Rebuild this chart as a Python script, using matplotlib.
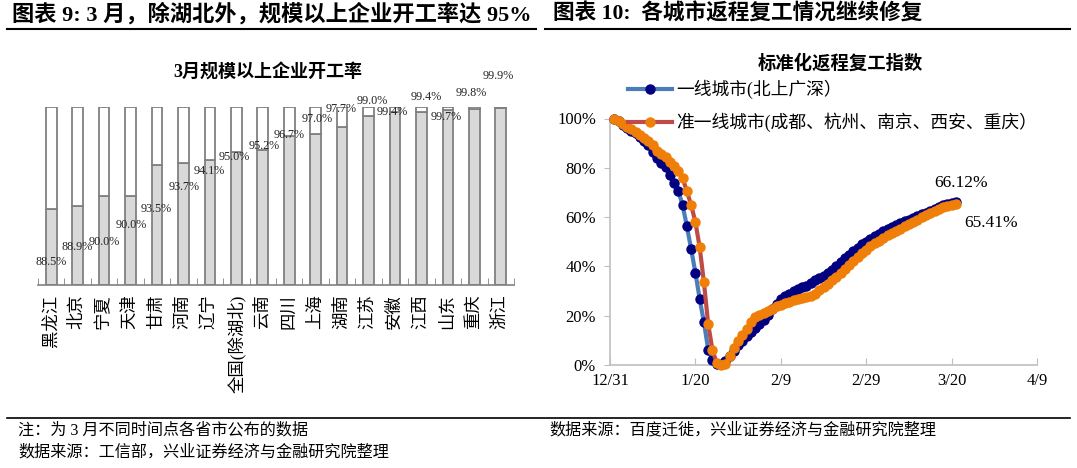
import numpy as np
import pandas as pd
import matplotlib
matplotlib.use('Agg')
import matplotlib.pyplot as plt
from matplotlib.lines import Line2D

plt.rcParams['font.family'] = ['Liberation Serif', 'Noto Sans CJK SC', 'DejaVu Sans']

# 图表 9: 3月规模以上企业开工率
provinces = ['黑龙江', '北京', '宁夏', '天津', '甘肃', '河南', '辽宁', '全国(除湖北)', '云南',
             '四川', '上海', '湖南', '江苏', '安徽', '江西', '山东', '重庆', '浙江']
open_rate = [88.5, 88.9, 90.0, 90.0, 93.5, 93.7, 94.1, 95.0, 95.2,
             96.7, 97.0, 97.7, 99.0, 99.4, 99.4, 99.7, 99.8, 99.9]

# 图表 10: 标准化返程复工指数 (daily, from 1/1)
start_date = '2020-01-01'
tier1 = [100.0, 98.8, 97.3, 96.0, 95.0, 94.0, 92.5, 90.8, 89.2, 86.6,
         84.0, 81.9, 80.2, 77.2, 74.0, 70.6, 64.9, 56.3, 47.0, 37.5,
         26.8, 17.3, 6.2, 1.9, 0.5, 0.3, 1.5, 3.5, 5.5, 8.0,
         9.9, 11.6, 13.2, 14.9, 16.6, 18.4, 20.3, 22.6, 24.8, 26.8,
         28.0, 29.0, 30.0, 30.8, 31.6, 32.2, 33.2, 34.3, 35.2, 36.2,
         37.3, 38.7, 40.2, 41.8, 43.3, 44.8, 46.3, 47.6, 48.9, 50.1,
         51.2, 52.3, 53.3, 54.3, 55.2, 56.0, 56.8, 57.6, 58.3, 59.0,
         59.7, 60.4, 61.1, 61.8, 62.6, 63.4, 64.1, 64.8, 65.3, 65.8,
         66.12]
tier1_new = [100.0, 98.8, 97.7, 96.7, 95.8, 94.4, 93.2, 92.0, 90.9, 89.3,
             87.0, 85.7, 84.3, 82.5, 80.7, 78.6, 75.7, 70.5, 64.9, 58.0,
             47.8, 33.5, 16.5, 6.1, 0.7, 0.0, 0.5, 3.5, 7.0, 9.6,
             12.0, 14.8, 17.4, 19.4, 20.2, 21.2, 22.0, 22.9, 23.8, 24.5,
             25.1, 25.7, 26.3, 26.7, 27.1, 27.5, 28.1, 29.0, 30.3, 31.6,
             33.0, 34.4, 35.7, 37.2, 38.8, 40.5, 42.2, 43.8, 45.3, 46.8,
             48.2, 49.4, 50.5, 51.6, 52.6, 53.5, 54.4, 55.3, 56.2, 57.1,
             58.0, 59.0, 60.0, 60.9, 61.8, 62.6, 63.4, 64.0, 64.6, 65.1,
             65.41]
series_names = ['一线城市(北上广深）', '准一线城市(成都、杭州、南京、西安、重庆）']
date_ticks = ['2019-12-31', '2020-01-20', '2020-02-09', '2020-02-29', '2020-03-20', '2020-04-09']
date_labels = ['12/31', '1/20', '2/9', '2/29', '3/20', '4/9']

# label placement for the bar values (x offset, y in data units)
label_dx = [0.0, -0.03, 0.0, 0.02, -0.04, 0.02, -0.03, -0.09, 0.05,
            0.0, 0.05, -0.04, 0.13, -0.11, 0.17, -0.07, -0.12, -0.1]
label_y = [82.6, 84.3, 84.8, 86.7, 88.5, 91.0, 92.8, 94.4, 95.6,
           96.9, 98.7, 99.8, 100.7, 99.4, 101.1, 98.9, 101.6, 103.5]

W, H = 1077, 468
fig = plt.figure(figsize=(W / 100, H / 100), dpi=100)


def fx(px):
    return px / W


def fy(py):
    return 1 - py / H


# ---- left: bar chart
ax1 = fig.add_axes([fx(38), fy(285), fx(514) - fx(38), fy(107) - fy(285)])
x = np.arange(len(provinces))
vals = np.array(open_rate)
ax1.bar(x, vals - 80, bottom=80, width=0.4, color='#d9d9d9', edgecolor='#808080', linewidth=1.3)
ax1.bar(x, 100 - vals, bottom=vals, width=0.4, color='white', edgecolor='#808080', linewidth=1.3)
for i, v in enumerate(open_rate):
    ax1.text(i + label_dx[i], label_y[i], f'{v:.1f}%', ha='center', va='center',
             fontsize=8.7, color='#222222', clip_on=False)
ax1.set_xlim(-0.5, len(provinces) - 0.5)
ax1.set_ylim(80, 100)
for s in ['top', 'right', 'left']:
    ax1.spines[s].set_visible(False)
ax1.spines['bottom'].set_color('#808080')
ax1.spines['bottom'].set_linewidth(1.2)
ax1.set_yticks([])
ax1.set_xticks(x)
ax1.set_xticklabels(provinces, rotation=90, fontsize=12.5, va='top')
ax1.tick_params(axis='x', which='major', length=0, pad=7)
ax1.set_xticks(np.arange(-0.5, len(provinces)), minor=True)
ax1.tick_params(axis='x', which='minor', direction='in', length=5, color='#808080')
fig.text(fx(268), fy(73), '3月规模以上企业开工率', ha='center', va='center',
         fontsize=13, fontweight='bold')

# ---- right: line chart
ax2 = fig.add_axes([fx(610), fy(365), fx(1037) - fx(610), fy(118.5) - fy(365)])
dates = pd.date_range(start_date, periods=len(tier1))
ax2.plot(dates, tier1, color='#4a7ebb', lw=3, marker='o', ms=6.5,
         mfc='#000080', mec='#000080', clip_on=False, label=series_names[0], zorder=3)
ax2.plot(dates, tier1_new, color='#be4b48', lw=3, marker='o', ms=6.5,
         mfc='#f07f09', mec='#f07f09', clip_on=False, label=series_names[1], zorder=4)
ax2.set_xlim(pd.Timestamp(date_ticks[0]), pd.Timestamp(date_ticks[-1]))
ax2.set_ylim(0, 100)
ax2.set_xticks([pd.Timestamp(d) for d in date_ticks])
ax2.set_xticklabels(date_labels, fontsize=12)
ax2.set_yticks(np.arange(0, 101, 20))
ax2.set_yticklabels([f'{v}%' for v in range(0, 101, 20)], fontsize=12)
for s in ['top', 'right']:
    ax2.spines[s].set_visible(False)
for s in ['left', 'bottom']:
    ax2.spines[s].set_color('#bfbfbf')
    ax2.spines[s].set_linewidth(1.2)
ax2.tick_params(axis='x', direction='in', length=5, color='#bfbfbf', pad=6)
ax2.tick_params(axis='y', direction='out', length=4, color='#bfbfbf', pad=6)

ax2.annotate(f'{tier1[-1]:.2f}%', xy=(dates[-1], tier1[-1]), xytext=(4, 14),
             textcoords='offset points', ha='center', va='center', fontsize=12.5)
ax2.annotate(f'{tier1_new[-1]:.2f}%', xy=(dates[-1], tier1_new[-1]), xytext=(25, -14),
             textcoords='offset points', ha='center', va='center', fontsize=12.5)

ax2.legend(loc='upper left', bbox_to_anchor=(fx(628), fy(80)), bbox_transform=fig.transFigure,
           frameon=False, fontsize=12.8, numpoints=1, handlelength=2.5, handletextpad=0.2,
           labelspacing=0.74, borderpad=0, borderaxespad=0)
fig.text(fx(840), fy(63), '标准化返程复工指数', ha='center', va='center',
         fontsize=13.2, fontweight='bold')

# ---- page titles and notes
fig.text(fx(12), fy(14), '图表 9: 3 月，除湖北外，规模以上企业开工率达 95%',
         fontsize=16, fontweight='bold', va='center')
fig.text(fx(553), fy(14), '图表 10:  各城市返程复工情况继续修复',
         fontsize=15.6, fontweight='bold', va='center')
fig.add_artist(Line2D([fx(7), fx(536)], [fy(29), fy(29)], color='black', lw=1.5))
fig.add_artist(Line2D([fx(545), fx(1070)], [fy(29), fy(29)], color='black', lw=1.5))
fig.add_artist(Line2D([fx(7), fx(1070)], [fy(418), fy(418)], color='black', lw=1.2))
fig.text(fx(18), fy(430), '注：为 3 月不同时间点各省市公布的数据', fontsize=11.6, va='center')
fig.text(fx(18), fy(452), '数据来源：工信部，兴业证券经济与金融研究院整理', fontsize=11.6, va='center')
fig.text(fx(549), fy(430), '数据来源：百度迁徙，兴业证券经济与金融研究院整理', fontsize=11.6, va='center')

fig.savefig('out.png', dpi=100)
